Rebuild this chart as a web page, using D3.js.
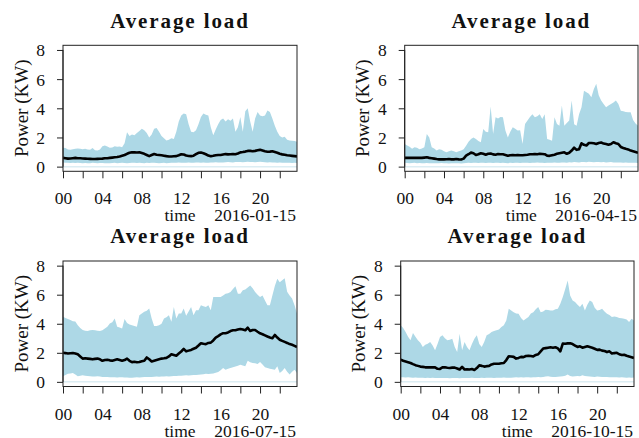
<!DOCTYPE html>
<html>
<head>
<meta charset="utf-8">
<script src="https://cdn.jsdelivr.net/npm/d3@7"></script>
<style>
  html, body { margin: 0; padding: 0; background: #fff; }
  svg { display: block; }
</style>
</head>
<body>
<svg id="chart" width="639" height="438"></svg>
<script>
const FONT = "'Liberation Serif', serif";

// Quarter-hour time stamps (hours of the day)
const hours = d3.range(96).map(i => i / 4);

// Axis ticks
const yTicks = [0, 2, 4, 6, 8];
const xTicks = [0, 2, 4, 6, 8, 10, 12, 14, 16, 18, 20, 22];
const xTickLabels = ["00", "", "04", "", "08", "", "12", "", "16", "", "20", ""];

// Days shown, one per panel
const days = ["2016-01-15", "2016-04-15", "2016-07-15", "2016-10-15"];

// 2016-01-15 (kW)
const janUpper = [
  1.30,1.28,1.17,1.15, 1.20,1.22,1.24,1.22, 1.20,1.22,1.18,1.15, 1.28,1.12,1.10,1.18,
  1.40,1.45,1.38,1.30, 1.32,1.40,1.36,1.38, 1.33,1.60,2.35,2.10, 2.20,2.15,2.30,2.45,
  2.60,2.50,2.30,2.00, 2.20,2.60,2.65,2.40, 2.10,1.95,1.80,1.85, 1.95,1.90,2.40,3.10,
  3.50,3.65,3.60,2.90, 2.40,2.35,2.50,2.90, 3.40,3.65,3.55,3.50, 2.70,2.15,2.55,2.90,
  3.20,3.30,3.10,3.25, 3.15,3.30,2.40,2.70, 3.40,2.40,3.80,4.00, 3.10,2.40,3.30,3.75,
  3.50,3.45,3.50,3.85, 3.75,3.30,2.80,2.40, 2.10,2.00,2.05,1.85, 1.80,1.78,1.75,1.70];
const janMean = [
  0.60,0.58,0.55,0.56, 0.58,0.60,0.58,0.57, 0.56,0.55,0.54,0.53, 0.52,0.52,0.53,0.54,
  0.55,0.57,0.58,0.60, 0.62,0.64,0.66,0.70, 0.75,0.80,0.88,0.95, 0.99,0.98,0.97,0.98,
  0.93,0.88,0.80,0.72, 0.80,0.87,0.82,0.80, 0.78,0.75,0.72,0.70, 0.70,0.71,0.72,0.78,
  0.85,0.83,0.76,0.73, 0.72,0.75,0.85,0.95, 0.97,0.92,0.85,0.76, 0.71,0.74,0.78,0.80,
  0.80,0.83,0.86,0.84, 0.85,0.87,0.85,0.90, 0.98,1.00,1.03,1.08, 1.08,1.06,1.08,1.12,
  1.15,1.10,1.05,1.02, 1.03,1.05,1.00,0.95, 0.88,0.84,0.81,0.78, 0.76,0.74,0.72,0.70];
const janLower = [
  0.28,0.27,0.26,0.25, 0.26,0.25,0.27,0.25, 0.24,0.25,0.23,0.24, 0.26,0.25,0.24,0.25,
  0.25,0.24,0.23,0.24, 0.25,0.26,0.24,0.25, 0.26,0.25,0.24,0.25, 0.26,0.27,0.25,0.26,
  0.25,0.24,0.26,0.25, 0.27,0.26,0.25,0.24, 0.25,0.26,0.24,0.25, 0.26,0.27,0.26,0.28,
  0.27,0.26,0.27,0.28, 0.27,0.26,0.28,0.29, 0.27,0.28,0.27,0.26, 0.28,0.29,0.30,0.28,
  0.29,0.28,0.30,0.31, 0.30,0.29,0.31,0.32, 0.31,0.30,0.32,0.33, 0.32,0.31,0.30,0.32,
  0.33,0.31,0.30,0.29, 0.30,0.28,0.29,0.27, 0.28,0.27,0.26,0.27, 0.26,0.25,0.26,0.25];

// 2016-04-15 (kW)
const aprUpper = [
  1.56,1.45,1.37,1.22, 1.33,1.30,1.20,1.25, 1.33,2.24,2.00,1.33, 1.25,1.10,1.20,1.15,
  1.05,0.98,1.05,1.10, 1.05,0.98,1.05,1.10, 1.20,1.44,1.70,1.90, 2.00,1.90,1.75,1.67,
  2.58,2.40,2.36,4.12, 2.24,3.39,3.30,3.40, 3.39,2.47,2.00,2.40, 2.70,2.60,2.47,2.50,
  1.56,2.93,3.16,3.40, 3.60,3.39,3.45,3.60, 3.27,3.60,1.90,1.85, 1.78,3.39,2.93,2.81,
  4.19,2.81,3.00,3.16, 4.53,2.90,2.81,3.60, 4.07,5.20,5.10,4.99, 4.76,5.30,5.68,4.90,
  4.53,4.30,4.07,4.20, 4.30,4.40,4.53,4.30, 3.84,3.80,3.75,3.73, 3.73,3.20,2.95,2.81];
const aprMean = [
  0.60,0.60,0.61,0.60, 0.60,0.61,0.60,0.60, 0.62,0.64,0.60,0.58, 0.55,0.52,0.50,0.50,
  0.50,0.51,0.52,0.50, 0.50,0.52,0.50,0.49, 0.55,0.75,0.85,0.96, 0.92,0.80,0.85,0.92,
  0.88,0.82,0.88,0.90, 0.84,0.82,0.86,0.85, 0.85,0.80,0.75,0.78, 0.80,0.78,0.80,0.78,
  0.78,0.80,0.82,0.85, 0.85,0.87,0.85,0.88, 0.87,0.85,0.75,0.74, 0.78,0.82,0.88,0.92,
  0.95,0.98,0.88,0.95, 1.10,1.30,1.15,1.20, 1.60,1.50,1.45,1.62, 1.62,1.60,1.55,1.62,
  1.65,1.58,1.55,1.50, 1.55,1.67,1.60,1.55, 1.35,1.28,1.22,1.18, 1.10,1.05,1.00,0.95];
const aprLower = [
  0.26,0.25,0.24,0.25, 0.26,0.24,0.25,0.23, 0.24,0.25,0.24,0.23, 0.24,0.23,0.24,0.25,
  0.23,0.24,0.22,0.23, 0.24,0.23,0.24,0.22, 0.23,0.25,0.26,0.25, 0.27,0.26,0.25,0.27,
  0.26,0.25,0.27,0.26, 0.25,0.26,0.27,0.25, 0.26,0.25,0.24,0.26, 0.25,0.27,0.26,0.25,
  0.26,0.27,0.26,0.25, 0.27,0.26,0.28,0.27, 0.26,0.25,0.26,0.27, 0.26,0.28,0.27,0.26,
  0.28,0.29,0.27,0.30, 0.29,0.31,0.30,0.29, 0.32,0.31,0.30,0.33, 0.31,0.30,0.32,0.31,
  0.30,0.31,0.29,0.30, 0.31,0.29,0.28,0.29, 0.28,0.27,0.28,0.27, 0.26,0.27,0.26,0.25];

// 2016-07-15 (kW)
const julUpper = [
  4.48,4.40,4.32,4.25, 4.18,4.15,3.90,3.70, 3.57,3.52,3.50,3.55, 3.57,3.55,3.52,3.50,
  3.55,3.68,3.80,4.02, 4.10,4.36,3.80,3.75, 3.68,4.32,4.05,3.95, 3.90,3.85,3.80,4.59,
  4.70,4.82,4.90,5.05, 4.36,3.84,3.85,3.90, 4.00,4.36,4.45,4.59, 4.14,5.16,4.36,4.70,
  4.70,5.05,4.55,4.85, 5.16,4.59,4.93,4.93, 5.27,5.20,5.16,5.27, 4.93,5.84,5.84,5.84,
  5.84,5.95,6.07,6.10, 6.18,6.40,6.59,6.07, 6.07,6.30,6.35,6.50, 6.64,6.45,6.18,6.00,
  5.84,5.95,5.60,5.27, 5.27,5.95,6.60,7.09, 6.86,7.00,7.14,6.20, 5.95,5.73,5.27,4.70];
const julMean = [
  2.00,1.98,1.95,1.97, 1.98,1.95,1.90,1.75, 1.60,1.62,1.60,1.58, 1.55,1.58,1.60,1.55,
  1.45,1.50,1.52,1.48, 1.45,1.50,1.55,1.50, 1.45,1.50,1.60,1.45, 1.36,1.38,1.35,1.37,
  1.42,1.45,1.68,1.55, 1.40,1.45,1.50,1.55, 1.60,1.62,1.65,1.75, 1.90,1.85,1.80,1.95,
  2.09,2.27,2.10,2.15, 2.20,2.28,2.35,2.50, 2.66,2.62,2.60,2.68, 2.70,2.85,3.05,3.15,
  3.27,3.35,3.35,3.40, 3.50,3.55,3.55,3.60, 3.64,3.60,3.55,3.73, 3.50,3.57,3.57,3.45,
  3.34,3.28,3.20,3.12, 3.05,3.00,3.23,3.05, 2.90,2.82,2.75,2.68, 2.60,2.55,2.48,2.40];
const julLower = [
  0.39,0.47,0.55,0.58, 0.61,0.50,0.39,0.42, 0.45,0.42,0.40,0.38, 0.36,0.37,0.38,0.36,
  0.34,0.33,0.33,0.32, 0.32,0.31,0.30,0.31, 0.31,0.30,0.30,0.29, 0.29,0.30,0.31,0.30,
  0.32,0.33,0.33,0.34, 0.34,0.35,0.36,0.35, 0.36,0.37,0.38,0.37, 0.39,0.40,0.41,0.42,
  0.42,0.44,0.45,0.44, 0.46,0.47,0.48,0.49, 0.50,0.52,0.55,0.54, 0.55,0.58,0.62,0.68,
  0.80,0.95,0.84,0.90, 0.95,1.00,1.05,1.10, 1.18,1.12,1.07,1.45, 1.35,1.30,1.28,1.23,
  1.36,1.20,1.00,0.95, 0.90,0.86,0.84,1.07, 0.61,0.75,0.95,0.70, 0.50,0.70,0.84,0.61];

// 2016-10-15 (kW)
const octUpper = [
  3.89,3.70,3.43,3.10, 2.86,3.36,3.10,2.86, 2.70,2.40,2.55,2.63, 2.75,2.50,2.17,2.60,
  3.09,3.20,3.00,2.86, 2.90,2.97,2.40,2.06, 3.32,2.17,2.75,2.40, 2.17,2.60,2.97,3.20,
  2.60,2.40,2.75,3.20, 3.30,3.43,3.50,3.55, 3.60,3.78,3.90,4.23, 5.03,4.92,4.80,4.70,
  4.69,4.40,4.23,4.35, 4.46,4.70,4.80,5.00, 5.15,4.80,4.85,4.97, 4.95,4.92,4.92,5.00,
  5.03,5.38,5.84,6.40, 6.98,5.95,5.60,5.49, 5.30,5.15,5.38,4.92, 5.30,5.60,5.49,5.10,
  4.92,4.95,5.03,4.85, 4.69,4.60,4.46,4.50, 4.46,4.40,4.38,4.35, 4.30,4.12,4.35,4.23];
const octMean = [
  1.53,1.45,1.40,1.35, 1.30,1.22,1.15,1.10, 1.05,1.03,1.00,1.00, 1.00,1.00,1.00,0.90,
  0.89,1.00,1.00,0.97, 0.95,0.98,0.98,0.92, 0.85,1.03,0.85,0.87, 0.85,0.88,0.82,0.95,
  1.14,1.10,1.05,1.08, 1.10,1.20,1.25,1.25, 1.25,1.28,1.30,1.50, 1.76,1.75,1.72,1.60,
  1.65,1.72,1.70,1.78, 1.80,1.78,1.75,1.85, 1.90,2.10,2.29,2.32, 2.35,2.38,2.35,2.38,
  2.30,2.10,2.63,2.62, 2.65,2.65,2.60,2.50, 2.40,2.45,2.35,2.40, 2.45,2.40,2.35,2.28,
  2.20,2.22,2.15,2.12, 2.05,2.10,1.95,1.98, 2.00,1.90,1.85,1.87, 1.80,1.75,1.70,1.65];
const octLower = [
  0.32,0.31,0.30,0.31, 0.30,0.29,0.30,0.28, 0.29,0.28,0.27,0.28, 0.27,0.28,0.26,0.27,
  0.27,0.26,0.27,0.26, 0.25,0.26,0.27,0.26, 0.25,0.26,0.27,0.26, 0.27,0.28,0.27,0.26,
  0.27,0.28,0.27,0.28, 0.29,0.28,0.27,0.28, 0.29,0.28,0.30,0.29, 0.28,0.29,0.30,0.31,
  0.30,0.31,0.30,0.32, 0.31,0.30,0.32,0.31, 0.33,0.32,0.34,0.36, 0.38,0.35,0.34,0.33,
  0.35,0.36,0.38,0.42, 0.50,0.40,0.36,0.38, 0.40,0.38,0.45,0.40, 0.38,0.36,0.35,0.34,
  0.36,0.35,0.33,0.34, 0.33,0.32,0.31,0.32, 0.31,0.30,0.31,0.30, 0.29,0.30,0.29,0.30];

const panelData = [
  { day: days[0], upper: janUpper, mean: janMean, lower: janLower },
  { day: days[1], upper: aprUpper, mean: aprMean, lower: aprLower },
  { day: days[2], upper: julUpper, mean: julMean, lower: julLower },
  { day: days[3], upper: octUpper, mean: octMean, lower: octLower }
];

// Plot-box frames for the 2x2 grid
const frames = [
  { left: 63,    right: 297, top: 45.3, bottom: 171.3 },
  { left: 404.7, right: 638, top: 45.3, bottom: 171.3 },
  { left: 63,    right: 297, top: 261,  bottom: 386.5 },
  { left: 400.7, right: 634, top: 261,  bottom: 386.5 }
];

const svg = d3.select("#chart");

function label(sel, size) {
  return sel.style("font-family", FONT).style("font-size", size + "px").style("fill", "#111");
}

panelData.forEach((d, k) => {
  const f = frames[k];
  const g = svg.append("g");

  const x = d3.scaleLinear().domain([0, 23.75]).range([f.left, f.right]);
  const y = d3.scaleLinear().domain([-0.32, 8.32]).range([f.bottom, f.top]);

  const clipId = "clip" + k;
  g.append("clipPath").attr("id", clipId)
    .append("rect")
    .attr("x", f.left).attr("y", f.top)
    .attr("width", f.right - f.left).attr("height", f.bottom - f.top);

  const plot = g.append("g").attr("clip-path", `url(#${clipId})`);

  // faint zero reference
  plot.append("line")
    .attr("x1", x(0)).attr("x2", x(23.75))
    .attr("y1", y(0)).attr("y2", y(0))
    .attr("stroke", "#dcedf3").attr("stroke-width", 1.5);

  // spread band between lower and upper envelope
  const band = d3.area()
    .x((h) => x(h))
    .y0((h, i) => y(d.lower[i]))
    .y1((h, i) => y(d.upper[i]));
  plot.append("path")
    .attr("d", band(hours))
    .attr("fill", "#add8e6");

  // average load
  const line = d3.line()
    .x((h) => x(h))
    .y((h, i) => y(d.mean[i]));
  plot.append("path")
    .attr("d", line(hours))
    .attr("fill", "none")
    .attr("stroke", "#000")
    .attr("stroke-width", 2.6)
    .attr("stroke-linejoin", "round");

  // frame
  g.append("rect")
    .attr("x", f.left).attr("y", f.top)
    .attr("width", f.right - f.left).attr("height", f.bottom - f.top)
    .attr("fill", "none").attr("stroke", "#222").attr("stroke-width", 1);

  // y axis
  const yAxis = d3.axisLeft(y).tickValues(yTicks).tickSize(6).tickPadding(12).tickSizeOuter(0);
  const ya = g.append("g").attr("transform", `translate(${f.left},0)`).call(yAxis);
  ya.select(".domain").remove();
  ya.selectAll(".tick line").attr("stroke", "#222");
  label(ya.selectAll(".tick text"), 17.5).attr("dy", "0.34em");
  g.append("line")
    .attr("x1", f.left).attr("x2", f.left)
    .attr("y1", y(0)).attr("y2", y(8))
    .attr("stroke", "#222");

  // x axis
  const xAxis = d3.axisBottom(x).tickValues(xTicks).tickSize(7).tickSizeOuter(0)
    .tickFormat((v, i) => xTickLabels[i]);
  const xa = g.append("g").attr("transform", `translate(0,${f.bottom})`).call(xAxis);
  xa.select(".domain").remove();
  xa.selectAll(".tick line").attr("stroke", "#222");
  label(xa.selectAll(".tick text"), 17.5).attr("y", 33).attr("dy", 0);

  // axis titles
  label(g.append("text"), 17.5)
    .attr("x", (f.left + f.right) / 2).attr("y", f.bottom + 50)
    .attr("text-anchor", "middle")
    .text("time");
  label(g.append("text"), 17.5)
    .attr("x", f.right - 1).attr("y", f.bottom + 50)
    .attr("text-anchor", "end")
    .text(d.day);
  label(g.append("text"), 19)
    .attr("transform", `translate(${f.left - 35.5},${(f.top + f.bottom) / 2}) rotate(-90)`)
    .attr("text-anchor", "middle")
    .text("Power (KW)");

  // panel title
  label(g.append("text"), 21)
    .attr("x", (f.left + f.right) / 2).attr("y", f.top - 17.8)
    .attr("text-anchor", "middle")
    .style("font-weight", "bold").style("letter-spacing", "1.9px")
    .text("Average load");
});
</script>
</body>
</html>
